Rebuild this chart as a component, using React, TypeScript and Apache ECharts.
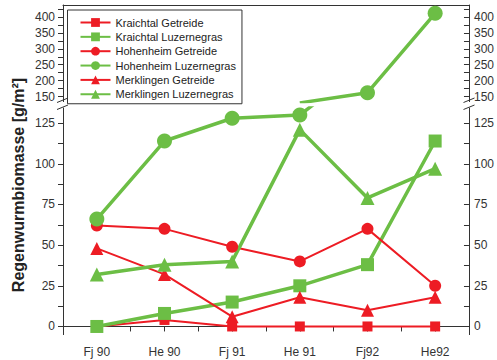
import React, { useEffect, useRef } from "react";
import * as echarts from "echarts";

const categories = ["Fj 90", "He 90", "Fj 91", "He 91", "Fj92", "He92"];
const kraichtalGetreide = [0, 4, 0, 0, 0, 0];
const kraichtalLuzernegras = [0, 8, 15, 25, 38, 114];
const hohenheimGetreide = [62, 60, 49, 40, 60, 25];
const hohenheimLuzernegras = [66, 114, 128, 130, 162, 412];
const hohenheimLuzernegrasUpper = [null, null, null, 130, 162, 412];
const merklingenGetreide = [48, 32, 6, 18, 10, 18];
const merklingenLuzernegras = [32, 38, 40, 121, 79, 97];

const lowerTicks = [0, 12.5, 25, 37.5, 50, 62.5, 75, 87.5, 100, 112.5, 125];
const lowerLabels = [0, 25, 50, 75, 100, 125];
const upperTicks = [150, 175, 200, 225, 250, 275, 300, 325, 350, 375, 400, 425];
const upperLabels = [150, 200, 250, 300, 350, 400];

const RED = "#ED1C24";
const GREEN = "#6CBE45";
const AXIS = "#333333";
const FONT = "Liberation Sans, Arial, sans-serif";

export default function App() {
  const ref = useRef<HTMLDivElement>(null);
  useEffect(() => {
    if (!ref.current) return;
    const chart = echarts.init(ref.current, null, { renderer: "svg" });

    const yAxisBase = (gridIndex: number, min: number, max: number, ticks: number[], labels: number[], right: boolean) => ({
      type: "value",
      gridIndex,
      min,
      max,
      position: right ? "right" : "left",
      splitLine: { show: false },
      axisLine: { show: true, lineStyle: { color: AXIS, width: 1 } },
      axisTick: { show: true, inside: right, length: 5, customValues: ticks, lineStyle: { color: AXIS } },
      axisLabel: {
        show: true,
        customValues: labels,
        margin: right ? 5 : 8,
        color: AXIS,
        fontSize: 12,
        fontFamily: FONT,
      },
    });

    const lineSeries = (name: string, data: (number | null)[], color: string, symbol: string, size: number, width: number, xi: number, yi: number) => ({
      type: "line",
      name,
      data,
      xAxisIndex: xi,
      yAxisIndex: yi,
      symbol,
      symbolSize: size,
      showAllSymbol: true,
      clip: true,
      connectNulls: false,
      itemStyle: { color },
      lineStyle: { color, width },
      emphasis: { disabled: true },
    });

    const option: any = {
      animation: false,
      textStyle: { fontFamily: FONT },
      grid: [
        { left: 63, right: 27.7, top: 5, height: 96.6 },
        { left: 63, right: 27.7, top: 108, height: 226.6 },
      ],
      xAxis: [
        {
          type: "category",
          gridIndex: 0,
          data: categories,
          position: "top",
          axisLine: { show: true, lineStyle: { color: AXIS } },
          axisTick: { show: false },
          axisLabel: { show: false },
        },
        {
          type: "category",
          gridIndex: 1,
          data: categories,
          position: "bottom",
          axisLine: { show: true, lineStyle: { color: AXIS } },
          axisTick: { show: true, alignWithLabel: true, interval: 0, length: 5, lineStyle: { color: AXIS } },
          axisLabel: { show: true, margin: 11, color: AXIS, fontSize: 12, fontFamily: FONT, interval: 0 },
        },
        {
          type: "category",
          gridIndex: 1,
          data: categories,
          position: "bottom",
          axisLine: { show: false },
          axisTick: { show: true, alignWithLabel: false, interval: 0, length: 5, lineStyle: { color: AXIS } },
          axisLabel: { show: false },
        },
      ],
      yAxis: [
        yAxisBase(0, 134, 438, upperTicks, upperLabels, false),
        yAxisBase(0, 134, 438, upperTicks, upperLabels, true),
        yAxisBase(1, -5, 134.3, lowerTicks, lowerLabels, false),
        yAxisBase(1, -5, 134.3, lowerTicks, lowerLabels, true),
      ],
      legend: {
        orient: "vertical",
        left: 67.5,
        top: 10,
        width: 173,
        padding: [7, 6, 4, 12],
        itemWidth: 30,
        itemHeight: 11,
        itemGap: 3.35,
        borderColor: "#333",
        borderWidth: 1,
        backgroundColor: "#ffffff",
        textStyle: { fontSize: 11, color: "#222", fontFamily: FONT },
        data: [
          "Kraichtal Getreide",
          "Kraichtal Luzernegras",
          "Hohenheim Getreide",
          "Hohenheim Luzernegras",
          "Merklingen Getreide",
          "Merklingen Luzernegras",
        ],
      },
      series: [
        lineSeries("Kraichtal Getreide", kraichtalGetreide, RED, "rect", 10, 2, 1, 2),
        lineSeries("Kraichtal Luzernegras", kraichtalLuzernegras, GREEN, "rect", 13, 3.5, 1, 2),
        lineSeries("Hohenheim Getreide", hohenheimGetreide, RED, "circle", 12, 2, 1, 2),
        lineSeries("Hohenheim Luzernegras", hohenheimLuzernegras, GREEN, "circle", 15, 3.5, 1, 2),
        lineSeries("Merklingen Getreide", merklingenGetreide, RED, "triangle", 13, 2, 1, 2),
        lineSeries("Merklingen Luzernegras", merklingenLuzernegras, GREEN, "triangle", 14, 3.5, 1, 2),
        lineSeries("Hohenheim Luzernegras", hohenheimLuzernegrasUpper, GREEN, "circle", 15, 3.5, 0, 0),
      ],
      graphic: [
        {
          type: "text",
          x: 18,
          y: 185,
          rotation: Math.PI / 2,
          style: {
            text: "Regenwurmbiomasse [g/m²]",
            font: "bold 16px " + FONT,
            fill: "#222",
            align: "center",
            verticalAlign: "middle",
          },
        },
        { type: "line", shape: { x1: 57, y1: 102.5, x2: 68, y2: 98 }, style: { stroke: AXIS, lineWidth: 1 } },
        { type: "line", shape: { x1: 57, y1: 109.5, x2: 68, y2: 105 }, style: { stroke: AXIS, lineWidth: 1 } },
        { type: "line", shape: { x1: 463.5, y1: 102.5, x2: 474.5, y2: 98 }, style: { stroke: AXIS, lineWidth: 1 } },
        { type: "line", shape: { x1: 463.5, y1: 109.5, x2: 474.5, y2: 105 }, style: { stroke: AXIS, lineWidth: 1 } },
      ],
    };
    chart.setOption(option);
    return () => chart.dispose();
  }, []);
  return (
    <div
      ref={ref}
      style={{ position: "fixed", left: 0, top: 0, width: 497, height: 360, background: "#fff" }}
    />
  );
}
